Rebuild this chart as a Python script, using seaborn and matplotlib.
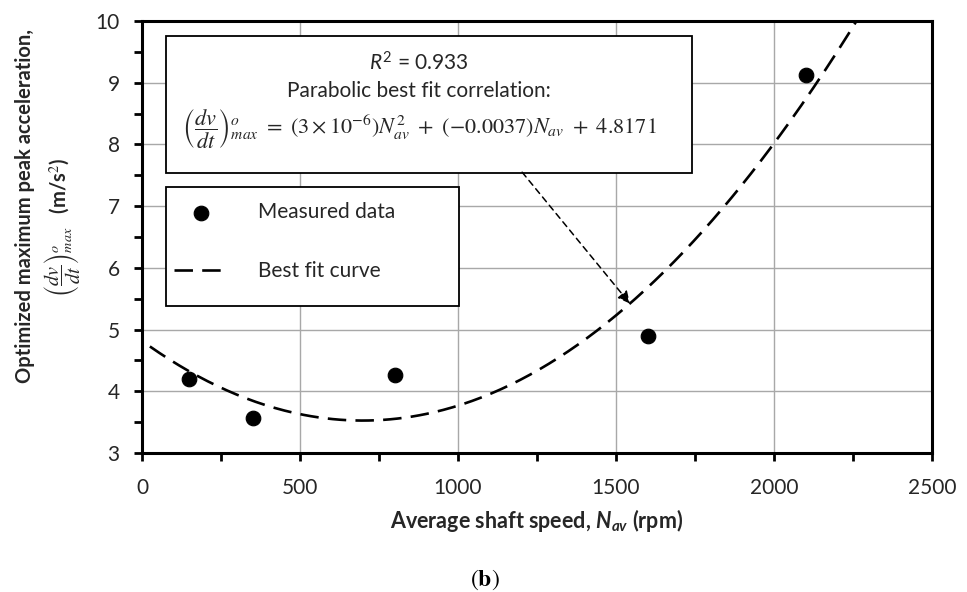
import numpy as np
import pandas as pd
import matplotlib
matplotlib.use("Agg")
import matplotlib.pyplot as plt
from matplotlib.patches import Rectangle
from matplotlib.ticker import MultipleLocator
import seaborn as sns

# Measured peak acceleration against average shaft speed
speed_rpm = [150, 350, 800, 1600, 2100]
peak_accel = [4.20, 3.57, 4.27, 4.89, 9.13]

# Parabolic best-fit coefficients (highest power first)
fit_coeffs = [2.65e-6, -0.0037, 4.8171]
fit_speed_range = [25, 2300]

x_ticks = [0, 500, 1000, 1500, 2000, 2500]
y_ticks = [3, 4, 5, 6, 7, 8, 9, 10]

sns.set_style("ticks")
plt.rcParams["font.family"] = ["Lato", "DejaVu Sans"]
plt.rcParams["mathtext.fontset"] = "custom"
plt.rcParams["mathtext.rm"] = "Lato"
plt.rcParams["mathtext.it"] = "Lato:italic"
plt.rcParams["mathtext.bf"] = "Lato:bold"
plt.rcParams["mathtext.bfit"] = "Lato:bold:italic"

TXT = "#262626"
FS = 15

fig = plt.figure(figsize=(9.67, 5.92), dpi=100)
W, H = 967, 592
ax = fig.add_axes([142 / W, (H - 453) / H, (932 - 142) / W, (453 - 21) / H])

measured = pd.DataFrame({"speed": speed_rpm, "accel": peak_accel})
n_fit = np.linspace(fit_speed_range[0], fit_speed_range[1], 300)
curve = pd.DataFrame({"speed": n_fit, "accel": np.polyval(fit_coeffs, n_fit)})

sns.scatterplot(data=measured, x="speed", y="accel", ax=ax, color="black",
                edgecolor="black", s=110, zorder=6, label="Measured data")
sns.lineplot(data=curve, x="speed", y="accel", ax=ax, color="black", lw=1.9,
             linestyle=(0, (7, 3.5)), zorder=5, label="Best fit curve")

ax.set_xlim(0, 2500)
ax.set_ylim(3, 10)
ax.set_xticks(x_ticks)
ax.set_yticks(y_ticks)
ax.xaxis.set_minor_locator(MultipleLocator(250))
ax.yaxis.set_minor_locator(MultipleLocator(0.5))
ax.grid(True, which="major", color="#a8a8a8", lw=1.0, zorder=0)
ax.set_axisbelow(True)
for sp in ax.spines.values():
    sp.set_color("black")
    sp.set_linewidth(2.2)
ax.tick_params(axis="both", which="both", direction="out", color="black",
               width=2.0, length=6, labelsize=FS, labelcolor=TXT)
ax.tick_params(axis="x", which="major", pad=12)
ax.tick_params(axis="y", which="major", pad=10)
ax.set_xlabel("")
ax.set_ylabel("")

# Fit equation box
ax.add_patch(Rectangle((0.0304, 0.648), 0.666, 0.317, transform=ax.transAxes,
                       facecolor="white", edgecolor="black", lw=1.3, zorder=7))
ax.text(0.351, 0.902, r"$R^2$ = 0.933", transform=ax.transAxes, ha="center",
        va="center", fontsize=FS, color=TXT, zorder=8,
        math_fontfamily="custom")
ax.text(0.351, 0.837, "Parabolic best fit correlation:", transform=ax.transAxes,
        ha="center", va="center", fontsize=FS, color=TXT, zorder=8)
ax.text(0.351, 0.752,
        r"$\left(\dfrac{dv}{dt}\right)^{o}_{max}\ =\ (3\times10^{-6})N_{av}^{2}"
        r"\ +\ (-0.0037)N_{av}\ +\ 4.8171$",
        transform=ax.transAxes, ha="center", va="center", fontsize=16,
        color=TXT, zorder=8, math_fontfamily="stix")

# Arrow from the box down to the fitted curve
arrow_tip = 1544
ax.annotate("", xy=(arrow_tip, np.polyval(fit_coeffs, arrow_tip)),
            xytext=(1203, 7.55),
            arrowprops=dict(arrowstyle="-|>", color="black", lw=1.1,
                            linestyle=(0, (4, 3)), mutation_scale=18,
                            shrinkA=0, shrinkB=0),
            zorder=7)

# Legend box
ax.add_patch(Rectangle((0.0304, 0.340), 0.371, 0.276, transform=ax.transAxes,
                       facecolor="white", edgecolor="black", lw=1.3, zorder=7))
handles, labels = ax.get_legend_handles_labels()
leg = ax.legend(handles, labels, loc="upper left", bbox_to_anchor=(0.040, 0.580),
                frameon=False, fontsize=FS, handlelength=2.67,
                handletextpad=1.4, labelspacing=1.85, borderpad=0,
                borderaxespad=0)
leg.set_zorder(9)
for t in leg.get_texts():
    t.set_color(TXT)

# Axis titles
fig.text(25 / W, 1 - 206 / H, "Optimized maximum peak acceleration,",
         rotation=90, ha="center", va="center", fontsize=14.5,
         fontweight="bold", color=TXT)
fig.text(63 / W, 1 - 227 / H,
         r"$\left(\dfrac{dv}{dt}\right)^{o}_{max}$   (m/s$^2$)",
         rotation=90, ha="center", va="center", fontsize=14.5,
         fontweight="bold", color=TXT, math_fontfamily="stix")
fig.text(537 / W, 1 - 521 / H, r"Average shaft speed, $\mathbfit{N_{av}}$ (rpm)",
         ha="center", va="center", fontsize=15.5, fontweight="bold",
         color=TXT, math_fontfamily="custom")
fig.text(485 / W, 1 - 580 / H, r"$(\mathbf{b})$", ha="center", va="center",
         fontsize=17, color="black", math_fontfamily="stix")

fig.savefig("out.png", dpi=100)
